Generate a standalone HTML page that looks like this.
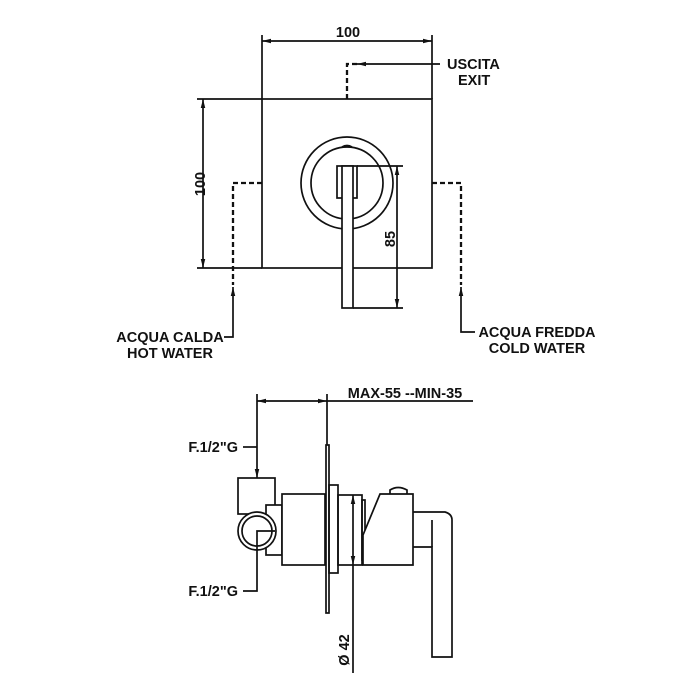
<!DOCTYPE html>
<html><head><meta charset="utf-8"><style>html,body{margin:0;padding:0;background:#fff}svg{display:block}text{font-family:"Liberation Sans",Arial,sans-serif;font-weight:bold;font-size:14.5px;fill:#111}</style></head><body>
<svg width="700" height="700" viewBox="0 0 700 700" xmlns="http://www.w3.org/2000/svg">
<defs>
<marker id="a" viewBox="0 0 10 10" refX="10" refY="5" markerWidth="9" markerHeight="9" orient="auto-start-reverse" markerUnits="userSpaceOnUse"><path d="M0,2.5 L10,5 L0,7.5z" fill="#111"/></marker>
</defs>
<g stroke="#111" stroke-width="1.7" fill="none">
<rect x="262" y="99" width="170" height="169"/>
<line x1="262" y1="35" x2="262" y2="99"/><line x1="432" y1="35" x2="432" y2="99"/>
<line x1="262" y1="41" x2="432" y2="41" marker-start="url(#a)" marker-end="url(#a)"/>
<line x1="197" y1="99" x2="262" y2="99"/><line x1="197" y1="268" x2="262" y2="268"/>
<line x1="203" y1="99" x2="203" y2="268" marker-start="url(#a)" marker-end="url(#a)"/>
<path d="M347 99 V64 H357" stroke-dasharray="5,3" stroke-width="2.3"/>
<line x1="440" y1="64" x2="357" y2="64" marker-end="url(#a)"/>
<path d="M262 183 H233 V285" stroke-dasharray="5,3" stroke-width="2.3"/>
<path d="M224 337 H233 V287" marker-end="url(#a)"/>
<path d="M432 183 H461 V285" stroke-dasharray="5,3" stroke-width="2.3"/>
<path d="M475 332 H461 V287" marker-end="url(#a)"/>
<circle cx="347" cy="183" r="46"/>
<circle cx="347" cy="183" r="36"/>
<path d="M342 147 q5 -3 10 0"/>
<rect x="337" y="166" width="20" height="32" fill="#fff"/>
<rect x="342" y="166" width="11" height="142" fill="#fff"/>
<line x1="357" y1="166" x2="403" y2="166"/><line x1="353" y1="308" x2="403" y2="308"/>
<line x1="397" y1="166" x2="397" y2="308" marker-start="url(#a)" marker-end="url(#a)"/>
<line x1="257" y1="394" x2="257" y2="478" marker-end="url(#a)"/>
<line x1="327" y1="394" x2="327" y2="445"/>
<line x1="257" y1="401" x2="327" y2="401" marker-start="url(#a)" marker-end="url(#a)"/>
<line x1="327" y1="401" x2="473" y2="401"/>
<line x1="243" y1="447" x2="257" y2="447"/>
<rect x="326" y="445" width="3" height="168"/>
<rect x="238" y="478" width="37" height="36"/>
<rect x="266" y="505" width="16" height="50" fill="#fff"/>
<circle cx="257" cy="531" r="19" fill="#fff"/>
<circle cx="257" cy="531" r="15"/>
<path d="M275 531 H257 V591 H243"/>
<rect x="282" y="494" width="43" height="71" fill="#fff"/>
<rect x="329" y="485" width="9" height="88"/>
<rect x="338" y="495" width="24" height="70"/>
<line x1="353" y1="495" x2="353" y2="565" marker-start="url(#a)" marker-end="url(#a)"/>
<line x1="353" y1="565" x2="353" y2="673"/>
<rect x="362" y="500" width="3" height="60"/>
<path d="M380 494 H413 V565 H363 V535 Z" fill="#fff"/>
<path d="M390 494 V490 q8 -5 17 0 V494"/>
<path d="M413 512 H445 Q452 514 452 520 V657 H432 V547 H413"/>
<line x1="432" y1="547" x2="432" y2="520"/>
</g>
<text x="348" y="37" text-anchor="middle">100</text>
<text x="447" y="69">USCITA</text>
<text x="458" y="85">EXIT</text>
<text transform="translate(205,184) rotate(-90)" text-anchor="middle">100</text>
<text transform="translate(395,239) rotate(-90)" text-anchor="middle">85</text>
<text x="170" y="342" text-anchor="middle">ACQUA CALDA</text>
<text x="170" y="358" text-anchor="middle">HOT WATER</text>
<text x="537" y="337" text-anchor="middle">ACQUA FREDDA</text>
<text x="537" y="353" text-anchor="middle">COLD WATER</text>
<text x="405" y="398" text-anchor="middle">MAX-55 --MIN-35</text>
<text x="238" y="452" text-anchor="end">F.1/2"G</text>
<text x="238" y="596" text-anchor="end">F.1/2"G</text>
<text transform="translate(349,650) rotate(-90)" text-anchor="middle">Ø 42</text>
</svg>
</body></html>
